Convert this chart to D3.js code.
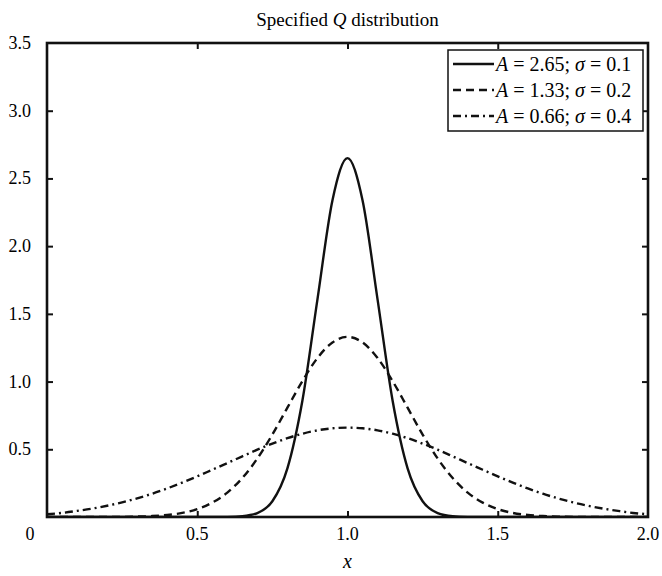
<!DOCTYPE html>
<html>
<head>
<meta charset="utf-8">
<script src="https://cdn.jsdelivr.net/npm/d3@7"></script>
<style>
  body { margin: 0; background: #fff; }
  text { font-family: "Liberation Serif", "Times New Roman", serif; fill: #000; }
</style>
</head>
<body>
<script>
const width = 662, height = 576;
const margin = {top: 43, right: 14, bottom: 59, left: 47};

// x positions of the sampled points
const xs = [0, 0.05, 0.1, 0.15, 0.2, 0.25, 0.3, 0.35, 0.4, 0.45, 0.5, 0.55, 0.6, 0.65, 0.7, 0.75, 0.8, 0.85, 0.9, 0.95,
            1.0, 1.05, 1.1, 1.15, 1.2, 1.25, 1.3, 1.35, 1.4, 1.45, 1.5, 1.55, 1.6, 1.65, 1.7, 1.75, 1.8, 1.85, 1.9, 1.95, 2.0];

// A = 2.65, sigma = 0.1
const q1 = [0, 0, 0, 0, 0, 0, 0, 0, 0, 0, 0, 0, 0.001, 0.006, 0.029, 0.116, 0.359, 0.860, 1.607, 2.339,
            2.65, 2.339, 1.607, 0.860, 0.359, 0.116, 0.029, 0.006, 0.001, 0, 0, 0, 0, 0, 0, 0, 0, 0, 0, 0, 0];
// A = 1.33, sigma = 0.2
const q2 = [0, 0, 0, 0, 0, 0.001, 0.003, 0.007, 0.015, 0.030, 0.058, 0.106, 0.180, 0.288, 0.432, 0.609, 0.807, 1.004, 1.174, 1.289,
            1.33, 1.289, 1.174, 1.004, 0.807, 0.609, 0.432, 0.288, 0.180, 0.106, 0.058, 0.030, 0.015, 0.007, 0.003, 0.001, 0, 0, 0, 0, 0];
// A = 0.66, sigma = 0.4
const q3 = [0.02, 0.03, 0.045, 0.062, 0.083, 0.108, 0.138, 0.172, 0.211, 0.254, 0.300, 0.349, 0.398, 0.448, 0.497, 0.542, 0.582, 0.615, 0.640, 0.655,
            0.66, 0.655, 0.640, 0.615, 0.582, 0.542, 0.497, 0.448, 0.398, 0.349, 0.300, 0.254, 0.211, 0.172, 0.138, 0.108, 0.083, 0.062, 0.045, 0.03, 0.02];

const seriesA = ['2.65', '1.33', '0.66'];
const seriesSigma = ['0.1', '0.2', '0.4'];
const dashes = [null, '8,5', '8,4,2,4'];

const xTicks = [0, 0.5, 1.0, 1.5, 2.0];
const yTicks = [0.5, 1.0, 1.5, 2.0, 2.5, 3.0, 3.5];

const svg = d3.select('body').append('svg').attr('width', width).attr('height', height);

const x = d3.scaleLinear().domain([0, 2]).range([margin.left, width - margin.right]);
const y = d3.scaleLinear().domain([0, 3.5]).range([height - margin.bottom, margin.top]);

svg.append('clipPath').attr('id', 'clip')
    .append('rect')
    .attr('x', x(0)).attr('y', y(3.5))
    .attr('width', x(2) - x(0)).attr('height', y(0) - y(3.5));

// curves
const line = d3.line()
    .x((d, i) => x(xs[i]))
    .y(d => y(d))
    .curve(d3.curveMonotoneX);

const series = [q1, q2, q3];
svg.append('g').attr('clip-path', 'url(#clip)')
    .selectAll('path')
    .data(series)
    .enter().append('path')
    .attr('d', line)
    .attr('fill', 'none')
    .attr('stroke', '#111')
    .attr('stroke-width', 2.4)
    .attr('stroke-dasharray', (d, i) => dashes[i]);

// axes, ticks inward on all four sides
const tickLen = 6;
const fmt = d => d === 0 ? '0' : d3.format('.1f')(d);

svg.append('g')
    .attr('transform', `translate(0,${y(0)})`)
    .call(d3.axisBottom(x).tickValues(xTicks.slice(1, -1)).tickSize(-tickLen).tickFormat(''))
    .call(g => g.select('.domain').remove());
svg.append('g')
    .attr('transform', `translate(0,${y(3.5)})`)
    .call(d3.axisTop(x).tickValues(xTicks.slice(1, -1)).tickSize(-tickLen).tickFormat(''))
    .call(g => g.select('.domain').remove());
svg.append('g')
    .attr('transform', `translate(${x(0)},0)`)
    .call(d3.axisLeft(y).tickValues(yTicks.slice(0, -1)).tickSize(-tickLen).tickFormat(''))
    .call(g => g.select('.domain').remove());
svg.append('g')
    .attr('transform', `translate(${x(2)},0)`)
    .call(d3.axisRight(y).tickValues(yTicks.slice(0, -1)).tickSize(-tickLen).tickFormat(''))
    .call(g => g.select('.domain').remove());
svg.selectAll('.tick line').attr('stroke', '#111').attr('stroke-width', 2);

svg.append('rect')
    .attr('x', x(0)).attr('y', y(3.5))
    .attr('width', x(2) - x(0)).attr('height', y(0) - y(3.5))
    .attr('fill', 'none')
    .attr('stroke', '#111')
    .attr('stroke-width', 2.6);

// tick labels
svg.selectAll('text.xlab')
    .data(xTicks)
    .enter().append('text')
    .attr('class', 'xlab')
    .attr('x', d => x(d) + (d === 0 ? -17 : 0))
    .attr('y', y(0) + 23)
    .attr('text-anchor', 'middle')
    .style('font-size', '18px')
    .text(fmt);

svg.selectAll('text.ylab')
    .data(yTicks)
    .enter().append('text')
    .attr('class', 'ylab')
    .attr('x', 31)
    .attr('y', d => y(d) + 6)
    .attr('text-anchor', 'end')
    .style('font-size', '18px')
    .text(fmt);

// title and axis label
const title = svg.append('text')
    .attr('x', x(1)).attr('y', 26)
    .attr('text-anchor', 'middle')
    .style('font-size', '19px');
title.append('tspan').text('Specified ');
title.append('tspan').style('font-style', 'italic').text('Q');
title.append('tspan').text(' distribution');

svg.append('text')
    .attr('x', x(1)).attr('y', 568)
    .attr('text-anchor', 'middle')
    .style('font-size', '20px')
    .style('font-style', 'italic')
    .text('x');

// legend
const legend = svg.append('g').attr('transform', 'translate(448,50)');
legend.append('rect')
    .attr('width', 195).attr('height', 81)
    .attr('fill', '#fff')
    .attr('stroke', '#111')
    .attr('stroke-width', 1.5);

const rows = legend.selectAll('g.row')
    .data(seriesA)
    .enter().append('g')
    .attr('class', 'row')
    .attr('transform', (d, i) => `translate(0,${14 + i * 26})`);

rows.append('line')
    .attr('x1', 5).attr('x2', 46)
    .attr('stroke', '#111')
    .attr('stroke-width', 2.4)
    .attr('stroke-dasharray', (d, i) => dashes[i]);

const lt = rows.append('text')
    .attr('x', 48).attr('y', 7)
    .style('font-size', '20px');
lt.append('tspan').style('font-style', 'italic').text('A');
lt.append('tspan').text(d => ` = ${d}; `);
lt.append('tspan').style('font-style', 'italic').text('σ');
lt.append('tspan').text((d, i) => ` = ${seriesSigma[i]}`);
</script>
</body>
</html>
